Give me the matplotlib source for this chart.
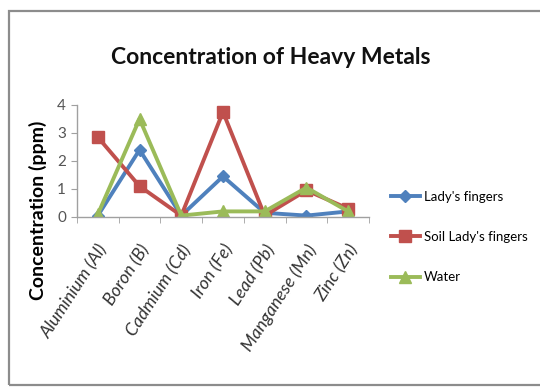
import matplotlib
matplotlib.use("Agg")
import matplotlib.pyplot as plt
from matplotlib.patches import Rectangle

metals = ["Aluminium (Al)", "Boron (B)", "Cadmium (Cd)", "Iron (Fe)",
          "Lead (Pb)", "Manganese (Mn)", "Zinc (Zn)"]
ladys_fingers = [0.05, 2.4, 0.05, 1.45, 0.15, 0.05, 0.2]
soil_ladys_fingers = [2.85, 1.1, 0.05, 3.75, 0.05, 0.95, 0.3]
water = [0.1, 3.5, 0.05, 0.2, 0.2, 1.05, 0.2]
y_ticks = [0, 1, 2, 3, 4]

plt.rcParams["font.family"] = ["Lato", "DejaVu Sans"]

fig = plt.figure(figsize=(5.4, 3.88), dpi=100)
fig.patch.set_facecolor("white")

# outer chart frame
fig.add_artist(Rectangle((9 / 540, 3 / 388), 540, 374 / 388,
                         transform=fig.transFigure, fill=False,
                         edgecolor="#8c8c8c", linewidth=1.6))

ax = fig.add_axes([77 / 540, 1 - 217 / 388, 292 / 540, 112 / 388])
x = list(range(len(metals)))

ax.plot(x, ladys_fingers, color="#4F81BD", marker="D", markersize=6.5,
        linewidth=2.8, label="Lady's fingers")
ax.plot(x, soil_ladys_fingers, color="#C0504D", marker="s", markersize=8.5,
        linewidth=2.8, label="Soil Lady's fingers")
ax.plot(x, water, color="#9BBB59", marker="^", markersize=8,
        linewidth=2.8, label="Water")

ax.set_xlim(-0.5, len(metals) - 0.5)
ax.set_ylim(0, 4)
ax.set_yticks(y_ticks)
ax.set_yticklabels([str(v) for v in y_ticks], fontsize=11, color="#555555")
ax.set_xticks(x)
ax.set_xticklabels(metals, rotation=57, ha="right", rotation_mode="anchor",
                   fontsize=12.8, style="italic", color="#333333")
ax.set_xticks([i + 0.5 for i in range(-1, len(metals))], minor=True)
ax.tick_params(axis="x", which="major", length=0, pad=18)
ax.tick_params(axis="x", which="minor", length=4, color="#a0a0a0", direction="out")
ax.tick_params(axis="y", length=4, color="#a0a0a0", pad=4)

for side in ("top", "right"):
    ax.spines[side].set_visible(False)
for side in ("left", "bottom"):
    ax.spines[side].set_color("#a0a0a0")
    ax.spines[side].set_linewidth(1.0)

ax.set_ylabel("Concentration (ppm)", fontsize=14, fontweight="bold")
ax.yaxis.set_label_coords(-30 / 292, (217 - 210) / 112)

fig.text(271 / 540, 1 - 58 / 388, "Concentration of Heavy Metals",
         ha="center", va="center", fontsize=16.5, fontweight="bold", color="#111111")

fig.legend(loc="center left", bbox_to_anchor=(379 / 540, 1 - 237 / 388),
           frameon=False, fontsize=9.5, handlelength=2.2, labelspacing=2.15,
           handletextpad=0.3)

fig.savefig("out.png", dpi=100)
